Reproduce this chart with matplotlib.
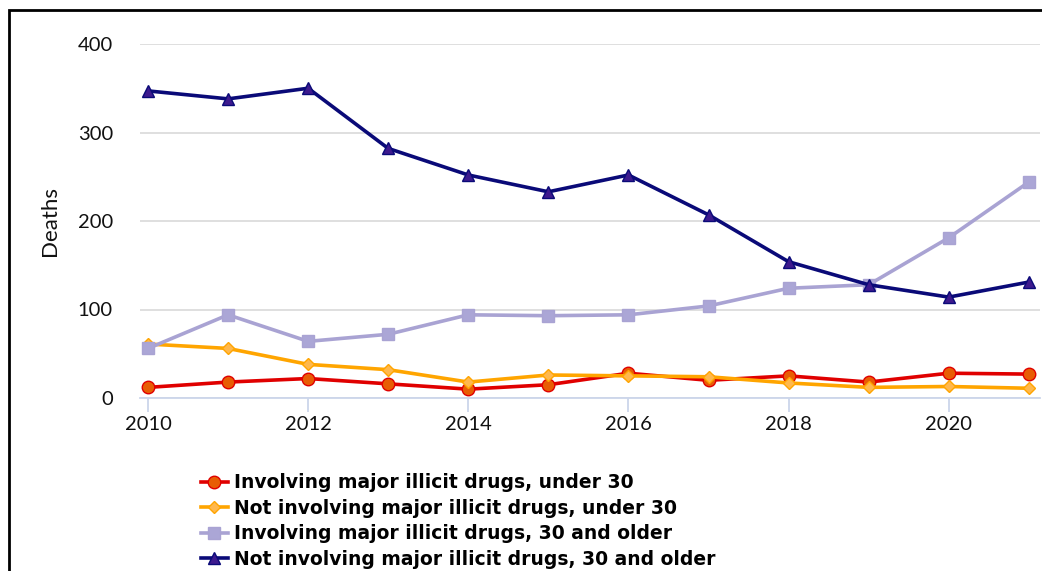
import matplotlib.pyplot as plt
from matplotlib.patches import Rectangle

# Data
years = [2010, 2011, 2012, 2013, 2014, 2015, 2016, 2017, 2018, 2019, 2020, 2021]
illicit_under30 = [12, 18, 22, 16, 10, 15, 28, 20, 25, 18, 28, 27]
no_illicit_under30 = [61, 56, 38, 32, 18, 26, 25, 24, 17, 12, 13, 11]
illicit_30plus = [56, 94, 64, 72, 94, 93, 94, 104, 124, 128, 181, 244]
no_illicit_30plus = [347, 338, 350, 282, 252, 233, 252, 207, 154, 128, 114, 131]

labels = ['Involving major illicit drugs, under 30',
          'Not involving major illicit drugs, under 30',
          'Involving major illicit drugs, 30 and older',
          'Not involving major illicit drugs, 30 and older']
yticks = [0, 100, 200, 300, 400]
xticks = [2010, 2012, 2014, 2016, 2018, 2020]

fig = plt.figure(figsize=(10.42, 5.71), dpi=100)
ax = fig.add_axes([140 / 1042, 1 - 398 / 571, 900 / 1042, 354 / 571])

# outer frame (partly cut off, like the screenshot)
fig.patches.append(Rectangle((9 / 1042, -0.1), 1.2, 1 - 10 / 571 + 0.1,
                             transform=fig.transFigure, fill=False,
                             edgecolor='black', linewidth=2, clip_on=False))

# series: (values, line color, marker, face, edge, size)
series = [
    (illicit_under30, '#e00000', 'o', '#e85d04', '#e00000', 9),
    (no_illicit_under30, '#ffa500', 'D', '#ffb84d', '#ffa500', 6.5),
    (illicit_30plus, '#a9a3d3', 's', '#aba6d6', '#a9a3d3', 9),
    (no_illicit_30plus, '#0a0a78', '^', '#3d1a8e', '#0a0a78', 9),
]
for (vals, lc, mk, fc, ec, ms), lab in zip(series, labels):
    ax.plot(years, vals, color=lc, linewidth=2.6, marker=mk, markersize=ms,
            markerfacecolor=fc, markeredgecolor=ec, markeredgewidth=1,
            label=lab, zorder=3)

ax.set_xlim(2009.9, 2021.14)
ax.set_ylim(0, 400)
ax.set_yticks(yticks)
ax.set_xticks(xticks)
ax.grid(axis='y', color='#dcdcdc', linewidth=1.3)
ax.set_axisbelow(True)
for s in ['top', 'right', 'left']:
    ax.spines[s].set_visible(False)
ax.spines['bottom'].set_color('#ccd6eb')
ax.spines['bottom'].set_linewidth(1.3)
ax.spines['bottom'].set_zorder(2)
ax.tick_params(axis='x', length=10, width=1.3, color='#ccd6eb', pad=3,
               labelsize=14.5, labelcolor='#111111')
ax.tick_params(axis='y', length=0, pad=19.5, labelsize=14.5, labelcolor='#111111')
for t in ax.get_xticklabels() + ax.get_yticklabels():
    t.set_fontfamily('Lato')
ax.set_ylabel('Deaths', fontsize=16, fontfamily='Lato', labelpad=13,
              color='#111111')

leg = fig.legend(loc='upper left', bbox_to_anchor=(193 / 1042, 1 - 466 / 571),
                 frameon=False, handlelength=1.45, handletextpad=0.35,
                 labelspacing=0.34, borderaxespad=0,
                 prop={'family': 'DejaVu Sans', 'weight': 'bold', 'size': 13.5})

fig.savefig('out.png', dpi=100)
